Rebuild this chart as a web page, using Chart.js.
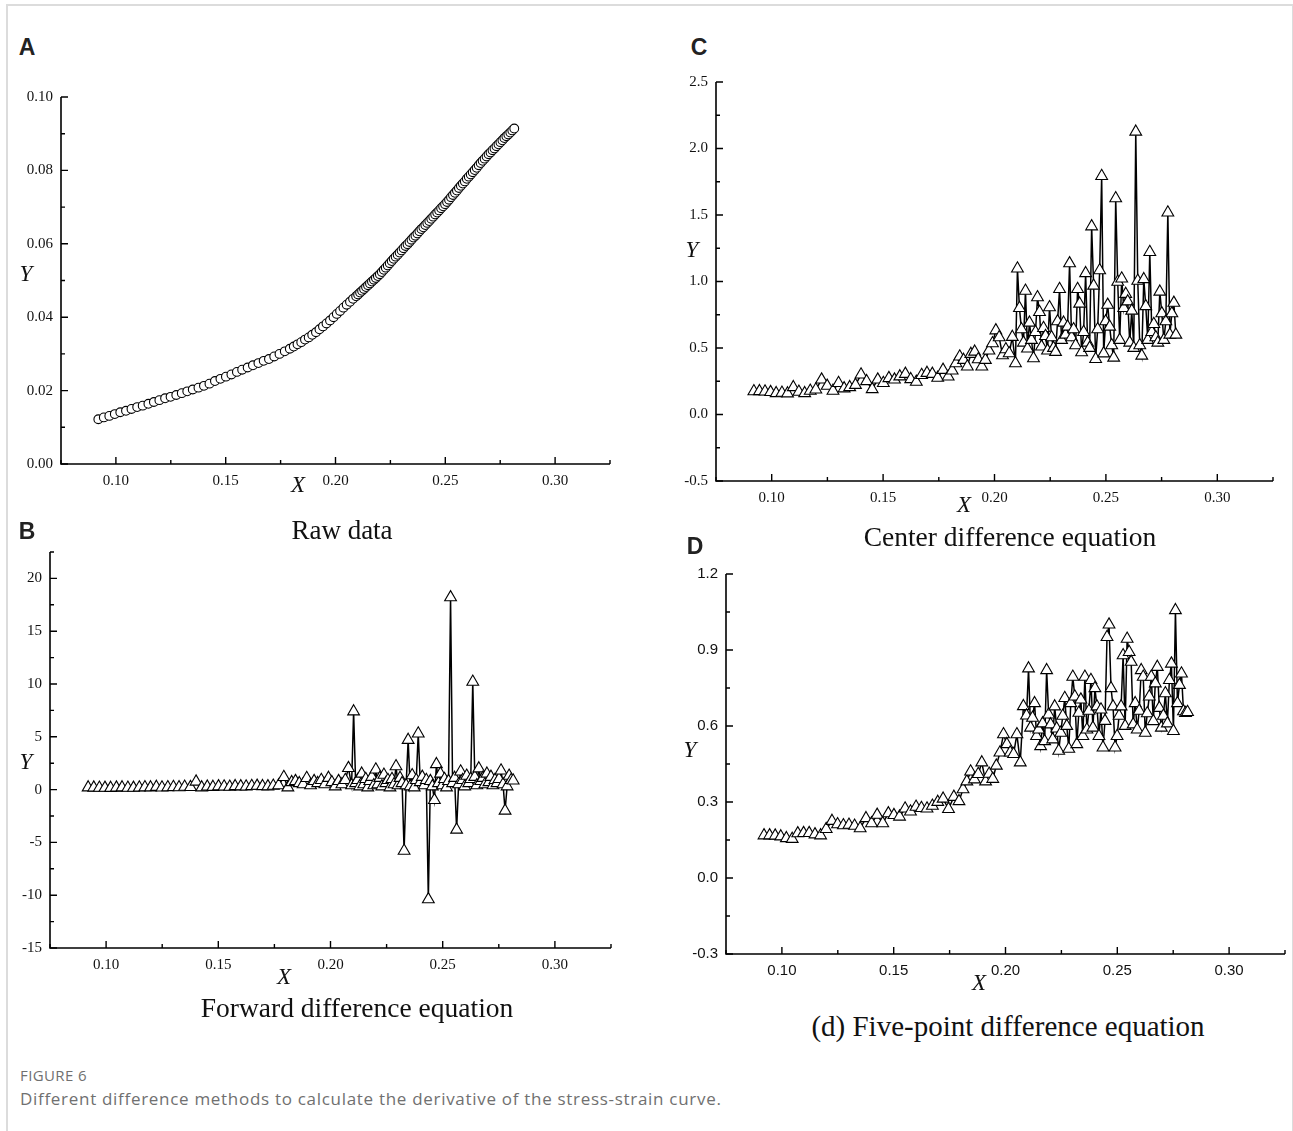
<!DOCTYPE html>
<html>
<head>
<meta charset="utf-8">
<script src="https://cdn.jsdelivr.net/npm/chart.js@4.4.0/dist/chart.umd.min.js"></script>
<style>
  body { margin: 0; background: #fff; width: 1293px; height: 1131px; position: relative; overflow: hidden; }
  .frame { position: absolute; left: 6px; top: 4px; width: 1284px; height: 1140px; border: 2px solid #dcdcdc; border-bottom: none; }
  canvas { position: absolute; }
  .t { position: absolute; transform: translate(-50%, -50%); line-height: 1; white-space: nowrap; color: #111; }
  .lbl { font: bold 23px "Liberation Sans", Arial, sans-serif; color: #222; }
  .ax { font: italic 23px "Liberation Serif", serif; }
  .ttl { font: 27.5px "Liberation Serif", serif; }
  .cap { position: absolute; left: 20px; font-family: "Open Sans", sans-serif; color: #707070; line-height: 1; transform: translateY(-50%); white-space: nowrap; }
</style>
</head>
<body>
<div class="frame"></div>

<canvas id="chartA"></canvas>
<canvas id="chartB"></canvas>
<canvas id="chartC"></canvas>
<canvas id="chartD"></canvas>

<div class="t lbl" style="left:27px;top:47px">A</div>
<div class="t lbl" style="left:27px;top:531px">B</div>
<div class="t lbl" style="left:699px;top:47px">C</div>
<div class="t lbl" style="left:695px;top:546px">D</div>

<div class="t ax" style="left:26px;top:274px">Y</div>
<div class="t ax" style="left:298px;top:485px">X</div>
<div class="t ttl" style="left:342px;top:530px;font-size:27px">Raw data</div>

<div class="t ax" style="left:26px;top:762px">Y</div>
<div class="t ax" style="left:284px;top:977px">X</div>
<div class="t ttl" style="left:357px;top:1008px">Forward difference equation</div>

<div class="t ax" style="left:692px;top:250px">Y</div>
<div class="t ax" style="left:964px;top:505px">X</div>
<div class="t ttl" style="left:1010px;top:537px">Center difference equation</div>

<div class="t ax" style="left:690px;top:750px">Y</div>
<div class="t ax" style="left:979px;top:983px">X</div>
<div class="t ttl" style="left:1008px;top:1026px;font-size:29px">(d) Five-point difference equation</div>

<div class="cap" style="top:1075px;font-size:15px;letter-spacing:0.4px">FIGURE 6</div>
<div class="cap" style="top:1098px;font-size:17px;letter-spacing:0.7px">Different difference methods to calculate the derivative of the stress-strain curve.</div>

<script>
// ── DATA ──
// strain values shared by all four panels
const xs = [
    0.0920, 0.0945, 0.0970, 0.0995, 0.1020, 0.1046, 0.1071, 0.1097, 0.1122, 0.1148,
    0.1173, 0.1198, 0.1224, 0.1249, 0.1275, 0.1300, 0.1325, 0.1350, 0.1376, 0.1401,
    0.1426, 0.1451, 0.1476, 0.1501, 0.1526, 0.1551, 0.1575, 0.1600, 0.1624, 0.1649,
    0.1673, 0.1697, 0.1721, 0.1745, 0.1769, 0.1792,
    0.1810, 0.1827, 0.1844, 0.1861, 0.1878, 0.1894, 0.1911, 0.1927, 0.1943, 0.1959,
    0.1975, 0.1991, 0.2006, 0.2021, 0.2036, 0.2051, 0.2066, 0.2080, 0.2094,
    0.2103, 0.2112, 0.2121, 0.2130, 0.2139, 0.2148, 0.2157, 0.2166, 0.2175, 0.2184,
    0.2193, 0.2202, 0.2211, 0.2220, 0.2229, 0.2238, 0.2247, 0.2256, 0.2265, 0.2274,
    0.2283, 0.2292, 0.2301, 0.2310, 0.2319, 0.2328, 0.2337, 0.2346, 0.2355, 0.2364,
    0.2373, 0.2382, 0.2391, 0.2400, 0.2409, 0.2418, 0.2427, 0.2436, 0.2445, 0.2454,
    0.2463, 0.2472, 0.2481, 0.2490, 0.2499, 0.2508, 0.2517, 0.2526, 0.2535, 0.2544,
    0.2553, 0.2562, 0.2571, 0.2580, 0.2589, 0.2598, 0.2607, 0.2616, 0.2625, 0.2634,
    0.2643, 0.2652, 0.2661, 0.2670, 0.2679, 0.2688, 0.2697, 0.2706, 0.2715, 0.2724,
    0.2733, 0.2742, 0.2751, 0.2760, 0.2769, 0.2778, 0.2787, 0.2796, 0.2805, 0.2814
];

// A: raw stress
const rawY = [
    0.0122, 0.0127, 0.0131, 0.0136, 0.0141, 0.0145, 0.0150, 0.0155, 0.0159, 0.0164,
    0.0169, 0.0174, 0.0179, 0.0183, 0.0188, 0.0193, 0.0198, 0.0203, 0.0208, 0.0213,
    0.0219, 0.0226, 0.0232, 0.0238, 0.0244, 0.0251, 0.0257, 0.0263, 0.0269, 0.0275,
    0.0281, 0.0286, 0.0293, 0.0300, 0.0307, 0.0314,
    0.0320, 0.0326, 0.0332, 0.0339, 0.0345, 0.0352, 0.0359, 0.0367, 0.0375, 0.0383,
    0.0391, 0.0400, 0.0409, 0.0417, 0.0426, 0.0434, 0.0442, 0.0450, 0.0457,
    0.0462, 0.0467, 0.0472, 0.0477, 0.0482, 0.0487, 0.0492, 0.0497, 0.0502, 0.0507,
    0.0512, 0.0517, 0.0523, 0.0529, 0.0535, 0.0541, 0.0547, 0.0553, 0.0559, 0.0565,
    0.0570, 0.0576, 0.0582, 0.0588, 0.0594, 0.0599, 0.0605, 0.0611, 0.0617, 0.0622,
    0.0628, 0.0634, 0.0640, 0.0645, 0.0651, 0.0657, 0.0662, 0.0668, 0.0674, 0.0680,
    0.0685, 0.0691, 0.0697, 0.0702, 0.0708, 0.0714, 0.0720, 0.0727, 0.0733, 0.0739,
    0.0745, 0.0752, 0.0758, 0.0764, 0.0770, 0.0777, 0.0783, 0.0789, 0.0795, 0.0801,
    0.0807, 0.0814, 0.0820, 0.0826, 0.0832, 0.0838, 0.0844, 0.0849, 0.0855, 0.0860,
    0.0866, 0.0871, 0.0877, 0.0882, 0.0888, 0.0893, 0.0898, 0.0903, 0.0909, 0.0914
];

// B: forward difference
const forwardY = [
    0.20, 0.18, 0.17, 0.16, 0.15, 0.18, 0.20, 0.17, 0.16, 0.19,
    0.22, 0.20, 0.25, 0.19, 0.22, 0.24, 0.21, 0.26, 0.23, 0.75,
    0.20, 0.27, 0.25, 0.30, 0.28, 0.26, 0.32, 0.30, 0.28, 0.33,
    0.35, 0.32, 0.30, 0.36, 0.40, 1.19,
    0.20, 0.70, 0.80, 0.60, 0.50, 1.09, 0.40, 0.80, 0.60, 0.90,
    0.50, 1.10, 0.70, 0.30, 0.80, 0.50, 0.90, 2.03, 0.40,
    7.40, 0.60, 0.90, 0.30, 1.50, 0.50, 1.00, 0.20, 0.80, 1.20,
    0.40, 1.90, 0.50, 1.10, 0.30, 1.40, 0.60, 0.90, 0.20, 1.00,
    0.50, 2.20, 0.40, 1.10, 0.60, -5.80, 0.40, 4.70, 0.30, 1.35,
    0.20, 0.90, 5.30, 0.70, 1.20, 0.40, 0.90, -10.40, 0.80, 0.30,
    -1.00, 2.40, 0.60, 1.50, 0.40, 1.00, 0.20, 0.80, 18.20, 0.60,
    1.10, -3.80, 0.50, 1.70, 0.90, 0.30, 1.30, 0.60, 1.00, 10.20,
    1.20, 0.40, 2.00, 0.80, 1.10, 0.50, 1.50, 0.70, 1.20, 0.40,
    0.90, 0.60, 1.00, 1.80, 0.50, -2.00, 0.30, 1.30, 0.90, 0.85
];

// C: center difference
const centerY = [
    0.174, 0.175, 0.172, 0.168, 0.160, 0.163, 0.158, 0.205, 0.170, 0.160,
    0.178, 0.187, 0.262, 0.215, 0.178, 0.236, 0.196, 0.205, 0.222, 0.300,
    0.250, 0.190, 0.262, 0.236, 0.273, 0.262, 0.286, 0.305, 0.265, 0.245,
    0.296, 0.312, 0.305, 0.276, 0.335, 0.285,
    0.330, 0.385, 0.435, 0.410, 0.360, 0.455, 0.472, 0.415, 0.360, 0.410,
    0.480, 0.535, 0.632, 0.580, 0.445, 0.490, 0.460, 0.583, 0.385,
    1.097, 0.800, 0.640, 0.540, 0.930, 0.495, 0.690, 0.560, 0.422, 0.620,
    0.881, 0.770, 0.510, 0.650, 0.590, 0.480, 0.806, 0.580, 0.500, 0.470,
    0.700, 0.943, 0.560, 0.690, 0.600, 0.660, 1.136, 0.580, 0.640, 0.520,
    0.943, 0.833, 0.467, 0.620, 1.062, 0.540, 0.500, 1.414, 0.968, 0.417,
    0.640, 1.084, 1.793, 0.459, 0.700, 0.824, 0.660, 0.520, 0.427, 1.625,
    0.997, 0.560, 1.022, 0.800, 0.906, 0.850, 0.540, 0.780, 0.500, 2.126,
    1.005, 0.520, 0.442, 1.017, 0.814, 0.560, 1.221, 0.620, 0.680, 0.580,
    0.540, 0.923, 0.760, 0.560, 0.700, 1.518, 0.600, 0.760, 0.839, 0.600
];

// D: five-point difference
const fivePointY = [
    0.168, 0.168, 0.167, 0.164, 0.157, 0.154, 0.176, 0.177, 0.177, 0.172,
    0.168, 0.193, 0.225, 0.212, 0.208, 0.210, 0.206, 0.196, 0.236, 0.216,
    0.249, 0.216, 0.255, 0.248, 0.242, 0.274, 0.262, 0.281, 0.276, 0.274,
    0.285, 0.300, 0.313, 0.272, 0.320, 0.303,
    0.350, 0.381, 0.420, 0.389, 0.410, 0.456, 0.381, 0.411, 0.391, 0.443,
    0.495, 0.567, 0.528, 0.495, 0.489, 0.567, 0.456, 0.678, 0.641,
    0.827, 0.593, 0.632, 0.690, 0.560, 0.586, 0.520, 0.610, 0.540, 0.820,
    0.645, 0.606, 0.547, 0.677, 0.590, 0.502, 0.573, 0.640, 0.710, 0.600,
    0.510, 0.690, 0.794, 0.716, 0.528, 0.652, 0.704, 0.560, 0.794, 0.586,
    0.660, 0.781, 0.593, 0.749, 0.677, 0.560, 0.665, 0.515, 0.620, 0.951,
    1.000, 0.749, 0.677, 0.515, 0.560, 0.640, 0.677, 0.879, 0.600, 0.944,
    0.892, 0.853, 0.606, 0.690, 0.586, 0.660, 0.820, 0.794, 0.573, 0.650,
    0.716, 0.794, 0.619, 0.768, 0.833, 0.671, 0.593, 0.640, 0.729, 0.610,
    0.781, 0.846, 0.580, 1.057, 0.690, 0.762, 0.807, 0.658, 0.651, 0.655
];

// tick labels
const xTicks = [0.10, 0.15, 0.20, 0.25, 0.30];
const yTicksA = [0.00, 0.02, 0.04, 0.06, 0.08, 0.10];
const yTicksB = [-15, -10, -5, 0, 5, 10, 15, 20];
const yTicksC = [-0.5, 0.0, 0.5, 1.0, 1.5, 2.0, 2.5];
const yTicksD = [-0.3, 0.0, 0.3, 0.6, 0.9, 1.2];

// ── INWARD TICKS + AXIS LINES ──
const originAxes = {
    id: 'originAxes',
    beforeDatasetsDraw(chart) {
        const { ctx, chartArea: a, scales } = chart;
        const o = chart.options.plugins.originAxes;
        ctx.save();
        ctx.strokeStyle = '#000';
        ctx.lineWidth = 1.6;
        ctx.beginPath();
        ctx.moveTo(a.left, a.top);
        ctx.lineTo(a.left, a.bottom);
        ctx.lineTo(a.right, a.bottom);
        ctx.stroke();

        const marks = (scale, major, minor, draw) => {
            const n = Math.round((scale.max - scale.min) / minor);
            for (let i = 0; i <= n; i++) {
                const v = scale.min + i * minor;
                const r = v / major;
                const isMajor = Math.abs(r - Math.round(r)) < 1e-6;
                draw(scale.getPixelForValue(v), isMajor ? 7 : 4);
            }
        };
        ctx.lineWidth = 1.4;
        ctx.beginPath();
        marks(scales.x, o.xMajor, o.xMinor, (p, len) => {
            ctx.moveTo(p, a.bottom);
            ctx.lineTo(p, a.bottom - len);
        });
        marks(scales.y, o.yMajor, o.yMinor, (p, len) => {
            ctx.moveTo(a.left, p);
            ctx.lineTo(a.left + len, p);
        });
        ctx.stroke();
        ctx.restore();
    }
};

// ── CHART BUILDER ──
function makePanel(id, area, ys, yMin, yMax, yTicks, yFmt, tickFont, marker) {
    const cv = document.getElementById(id);
    const w = area.r - area.l + 72, h = area.b - area.t + 52;
    cv.width = w; cv.height = h;
    cv.style.left = (area.l - 60) + 'px';
    cv.style.top = (area.t - 12) + 'px';

    const points = xs.map((x, i) => ({ x, y: ys[i] }));

    return new Chart(cv.getContext('2d'), {
        type: 'scatter',
        data: {
            datasets: [{
                data: points,
                showLine: marker.line,
                borderColor: '#000',
                borderWidth: 1.5,
                tension: 0,
                pointStyle: marker.style,
                pointRadius: marker.radius,
                pointBackgroundColor: '#fff',
                pointBorderColor: '#000',
                pointBorderWidth: 1.1,
                clip: false
            }]
        },
        plugins: [originAxes],
        options: {
            responsive: false,
            devicePixelRatio: 1,
            animation: false,
            layout: { padding: { left: 0, top: 12, right: 12, bottom: 0 } },
            plugins: {
                legend: { display: false },
                tooltip: { enabled: false },
                originAxes: marker.axes
            },
            scales: {
                x: {
                    type: 'linear', min: 0.075, max: 0.325,
                    grid: { display: false, drawTicks: false },
                    border: { display: false },
                    afterBuildTicks: s => { s.ticks = xTicks.map(v => ({ value: v })); },
                    afterFit: s => { s.height = 40; },
                    ticks: {
                        padding: 8, color: '#111', font: tickFont,
                        autoSkip: false, maxRotation: 0,
                        callback: v => v.toFixed(2)
                    }
                },
                y: {
                    type: 'linear', min: yMin, max: yMax,
                    grid: { display: false, drawTicks: false },
                    border: { display: false },
                    afterBuildTicks: s => { s.ticks = yTicks.map(v => ({ value: v })); },
                    afterFit: s => { s.width = 60; },
                    ticks: {
                        padding: 8, color: '#111', font: tickFont,
                        autoSkip: false,
                        callback: yFmt
                    }
                }
            }
        }
    });
}

const serif = { family: 'Liberation Serif', size: 15 };
const sans = { family: 'Liberation Sans', size: 15 };
const tri = (yMajor, yMinor) => ({
    style: 'triangle', radius: 6.8, line: true,
    axes: { xMajor: 0.05, xMinor: 0.025, yMajor, yMinor }
});

makePanel('chartA', { l: 61, r: 610, t: 92, b: 464 }, rawY, 0, 0.10, yTicksA,
    v => v.toFixed(2), serif,
    { style: 'circle', radius: 4.4, line: false,
      axes: { xMajor: 0.05, xMinor: 0.025, yMajor: 0.02, yMinor: 0.01 } });

makePanel('chartB', { l: 50, r: 611, t: 547, b: 948 }, forwardY, -15, 22.5, yTicksB,
    v => String(v), serif, tri(5, 2.5));

makePanel('chartC', { l: 716, r: 1273, t: 77, b: 481 }, centerY, -0.5, 2.5, yTicksC,
    v => v.toFixed(1), serif, tri(0.5, 0.25));

makePanel('chartD', { l: 726, r: 1285, t: 569, b: 954 }, fivePointY, -0.3, 1.2, yTicksD,
    v => v.toFixed(1), sans, tri(0.3, 0.15));
</script>
</body>
</html>
